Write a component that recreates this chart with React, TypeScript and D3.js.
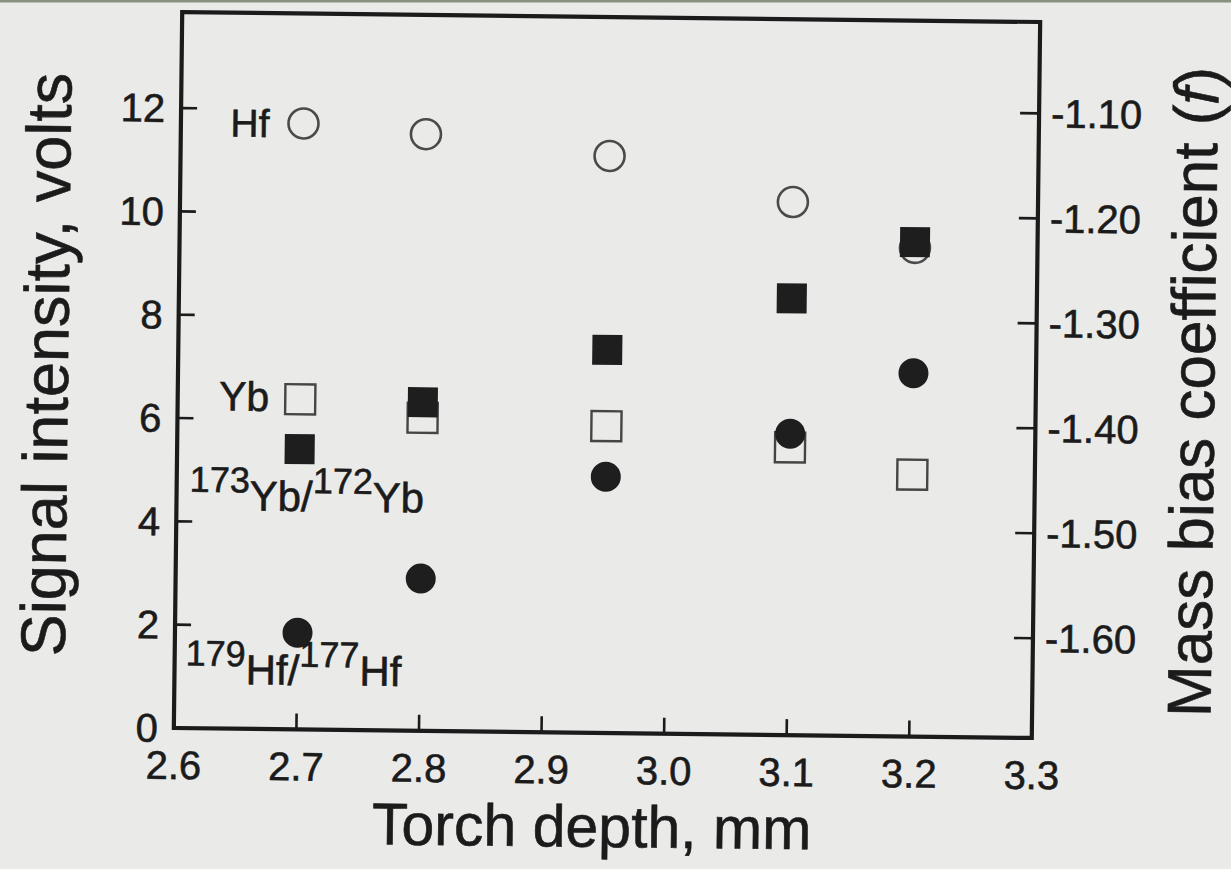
import React from "react";
import * as d3 from "d3";

// Torch depth (mm) for each measurement
const torchDepth = [2.7, 2.8, 2.95, 3.1, 3.2];
// Signal intensities (volts), left axis
const hfSignal = [11.73, 11.55, 11.17, 10.32, 9.46];
const ybSignal = [6.39, 6.06, 5.94, 5.57, 5.07];
// Mass bias coefficients (f), right axis
const ybMassBias = [-1.428, -1.382, -1.33, -1.279, -1.224];
const hfMassBias = [-1.603, -1.55, -1.451, -1.408, -1.349];

const xTicks = [2.6, 2.7, 2.8, 2.9, 3.0, 3.1, 3.2, 3.3];
const leftTicks = [0, 2, 4, 6, 8, 10, 12];
const rightTicks = [-1.1, -1.2, -1.3, -1.4, -1.5, -1.6];

const W = 1231;
const H = 869;
const plot = { left: 178, right: 1036, top: 17, bottom: 733 };
const FONT = "'Liberation Sans', Arial, Helvetica, sans-serif";
const INK = "#1b1b1b";
// slight stroke gives the printed type its heavier weight
const textInk = { fill: INK, stroke: INK, strokeWidth: 0.6 };

export default function App() {
  const x = d3.scaleLinear().domain([2.6, 3.3]).range([plot.left, plot.right]);
  const yL = d3.scaleLinear().domain([0, 13.86]).range([plot.bottom, plot.top]);
  const yR = d3.scaleLinear().domain([-1.695, -1.013]).range([plot.bottom, plot.top]);

  const tickLen = 16;
  const markR = 15;
  const sq = 30;
  const cx = (plot.left + plot.right) / 2;
  const cy = (plot.top + plot.bottom) / 2;

  return (
    <svg
      width={W}
      height={H}
      viewBox={`0 0 ${W} ${H}`}
      style={{ position: "absolute", left: 0, top: 0, display: "block" }}
      fontFamily={FONT}
    >
      <rect x={0} y={0} width={W} height={H} fill="#eaeae9" />
      <rect x={0} y={0} width={W} height={2.5} fill="#8a9080" />

      <g transform={`rotate(0.67, ${cx}, ${cy})`}>
        {/* open markers: signal intensity */}
        {torchDepth.map((d, i) => (
          <circle
            key={`hf-${i}`}
            cx={x(d)}
            cy={yL(hfSignal[i])}
            r={markR}
            fill="none"
            stroke="#4a4a4a"
            strokeWidth={2.6}
          />
        ))}
        {torchDepth.map((d, i) => (
          <rect
            key={`yb-${i}`}
            x={x(d) - sq / 2}
            y={yL(ybSignal[i]) - sq / 2}
            width={sq}
            height={sq}
            fill="none"
            stroke="#454545"
            strokeWidth={2.4}
          />
        ))}

        {/* filled markers: mass bias coefficient */}
        {torchDepth.map((d, i) => (
          <rect
            key={`ybf-${i}`}
            x={x(d) - sq / 2}
            y={yR(ybMassBias[i]) - sq / 2}
            width={sq}
            height={sq}
            fill="#1e1e1e"
          />
        ))}
        {torchDepth.map((d, i) => (
          <circle
            key={`hff-${i}`}
            cx={x(d)}
            cy={yR(hfMassBias[i])}
            r={markR}
            fill="#1e1e1e"
          />
        ))}

        {/* series labels */}
        <text
          x={x(torchDepth[0]) - 34}
          y={yL(hfSignal[0]) + 14}
          textAnchor="end"
          fontSize={39}
          {...textInk}
        >
          Hf
        </text>
        <text
          x={x(torchDepth[0]) - 31}
          y={yL(ybSignal[0]) + 12}
          textAnchor="end"
          fontSize={41}
          {...textInk}
        >
          Yb
        </text>
        <text
          x={plot.left + 13}
          y={yR(ybMassBias[0]) + 62}
          fontSize={42}
          {...textInk}
        >
          <tspan fontSize={36} dy={-18}>173</tspan>
          <tspan dy={18}>Yb/</tspan>
          <tspan fontSize={36} dy={-18}>172</tspan>
          <tspan dy={18}>Yb</tspan>
        </text>
        <text
          x={plot.left + 11}
          y={yR(hfMassBias[0]) + 52}
          fontSize={42}
          {...textInk}
        >
          <tspan fontSize={36} dy={-18}>179</tspan>
          <tspan dy={18}>Hf/</tspan>
          <tspan fontSize={36} dy={-18}>177</tspan>
          <tspan dy={18}>Hf</tspan>
        </text>

        {/* ticks */}
        {xTicks.map((t) => (
          <line
            key={`xt-${t}`}
            x1={x(t)}
            x2={x(t)}
            y1={plot.bottom}
            y2={plot.bottom - tickLen}
            stroke={INK}
            strokeWidth={2.6}
          />
        ))}
        {leftTicks.map((t) => (
          <line
            key={`lt-${t}`}
            x1={plot.left}
            x2={plot.left + tickLen}
            y1={yL(t)}
            y2={yL(t)}
            stroke={INK}
            strokeWidth={2.6}
          />
        ))}
        {rightTicks.map((t) => (
          <line
            key={`rt-${t}`}
            x1={plot.right}
            x2={plot.right - tickLen - 3}
            y1={yR(t)}
            y2={yR(t)}
            stroke={INK}
            strokeWidth={2.6}
          />
        ))}

        {/* frame */}
        <rect
          x={plot.left}
          y={plot.top}
          width={plot.right - plot.left}
          height={plot.bottom - plot.top}
          fill="none"
          stroke={INK}
          strokeWidth={4.2}
        />

        {/* tick labels */}
        {xTicks.map((t) => (
          <text
            key={`xl-${t}`}
            x={x(t)}
            y={plot.bottom + 51}
            textAnchor="middle"
            fontSize={40}
            {...textInk}
          >
            {d3.format(".1f")(t)}
          </text>
        ))}
        {leftTicks.map((t) => (
          <text
            key={`ll-${t}`}
            x={plot.left - 16}
            y={yL(t) + 14}
            textAnchor="end"
            fontSize={40}
            {...textInk}
          >
            {t}
          </text>
        ))}
        {rightTicks.map((t) => (
          <text
            key={`rl-${t}`}
            x={plot.right + 12}
            y={yR(t) + 14}
            textAnchor="start"
            fontSize={40}
            {...textInk}
          >
            {d3.format(".2f")(t).replace("−", "-")}
          </text>
        ))}

        {/* axis titles */}
        <text
          x={(plot.left + plot.right) / 2 - 10}
          y={plot.bottom + 114}
          textAnchor="middle"
          fontSize={59}
          {...textInk}
        >
          Torch depth, mm
        </text>
        <text
          transform={`translate(46, ${371}) rotate(-90)`}
          textAnchor="middle"
          dominantBaseline="central"
          fontSize={63}
          {...textInk}
        >
          Signal intensity, volts
        </text>
        <text
          transform={`translate(1193, ${385}) rotate(-90)`}
          textAnchor="middle"
          dominantBaseline="central"
          fontSize={62}
          {...textInk}
        >
          Mass bias coefficient (<tspan fontStyle="italic">f</tspan>)
        </text>
      </g>
    </svg>
  );
}
